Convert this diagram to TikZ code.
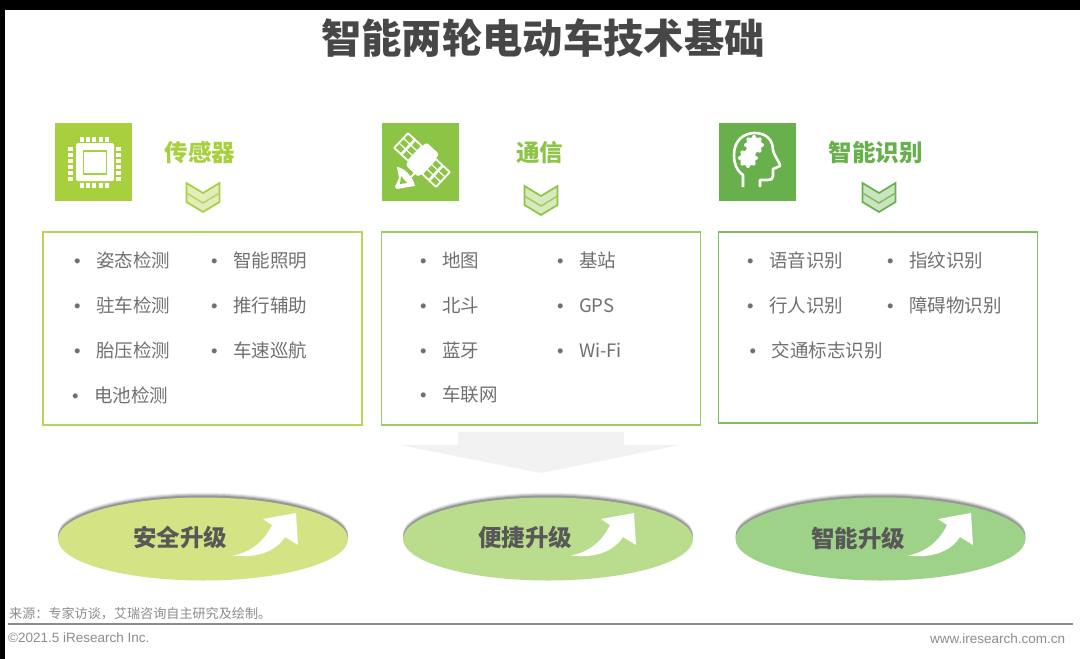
\documentclass[tikz,border=0pt]{standalone}
\usepackage{fontspec}
\setmainfont{Noto Sans CJK SC}
\newfontfamily\latinfont{Liberation Sans}
\usetikzlibrary{shapes.geometric}
\definecolor{lime}{RGB}{168,207,61}
\definecolor{grass}{RGB}{140,196,70}
\definecolor{leaf}{RGB}{104,176,76}
\definecolor{limefill}{RGB}{212,227,132}
\definecolor{grassfill}{RGB}{185,221,141}
\definecolor{leaffill}{RGB}{159,210,137}
\definecolor{slate}{RGB}{88,88,88}
\definecolor{itemgrey}{RGB}{112,112,112}
\definecolor{footgrey}{RGB}{140,140,140}
\tikzstyle{heading} = [font=\fontsize{23.5}{26}\selectfont\bfseries, inner sep=0pt]
\tikzstyle{listbox} = [rectangle, minimum width=319pt, minimum height=193pt, line width=1.5pt, inner sep=0pt]
\tikzstyle{item} = [text width=100pt, align=left, inner sep=0pt, text height=18pt, text depth=4pt, text=itemgrey, font=\fontsize{18.5}{20}\selectfont]
\tikzstyle{iconbox} = [rectangle, minimum width=77pt, minimum height=78pt, inner sep=0pt]
\tikzstyle{upgrade} = [ellipse, minimum width=290pt, minimum height=83pt, inner sep=0pt,
  preaction={fill=black, opacity=0.06, transform canvas={yshift=5pt}},
  preaction={fill=black, opacity=0.10, transform canvas={yshift=4pt}},
  preaction={fill=black, opacity=0.14, transform canvas={yshift=3pt}},
  preaction={fill=black, opacity=0.18, transform canvas={yshift=2pt}}]
\tikzstyle{upgradetext} = [text=slate, inner sep=0pt, font=\fontsize{23.5}{26}\selectfont\bfseries]
\tikzstyle{foot} = [text=footgrey, inner sep=0pt, anchor=west]
\newcommand{\bul}[1]{\makebox[21pt][l]{\hspace{-1pt}\latinfont •}#1}
\begin{document}
\begin{tikzpicture}[x=1pt, y=-1pt, node distance=45pt]
        \useasboundingbox (0,0) rectangle (1080,659);
        \fill[white] (0,0) rectangle (1080,659);
        \fill[black] (0,0) rectangle (1080,10);
        \fill[black] (0,0) rectangle (5,659);

        \node (title) [text=black!72, inner sep=0pt, font=\fontsize{40.3}{44}\selectfont\bfseries] at (543,38) {智能两轮电动车技术基础};

        \node (icon1) [iconbox, fill=lime] at (93.5,162) {};
        \node (icon2) [iconbox, fill=grass] at (420,162) {};
        \node (icon3) [iconbox, fill=leaf] at (757,162) {};

        \node (head1) [heading, text=lime] at (200,153) {传感器};
        \node (head2) [heading, text=grass] at (539.5,153) {通信};
        \node (head3) [heading, text=leaf] at (875.5,153) {智能识别};

        \foreach \cx/\cy/\col in {203/182/lime, 541/185/grass, 879/182/leaf} {
            \begin{scope}[shift={(\cx,\cy)}]
                \draw[\col, fill=\col!35, line width=1.7pt, line join=miter] (-16.5,1) -- (0,11) -- (16.5,1) -- (16.5,20) -- (0,30) -- (-16.5,20) -- cycle;
                \draw[\col!85, line width=1.5pt] (-16.5,11) -- (0,21) -- (16.5,11);
            \end{scope}
        }

        % chip
        \fill[white, rounded corners=1.5pt] (76,143) rectangle (114,181);
        \draw[lime, line width=1.3pt] (83.5,151) rectangle (106.5,174);
        \foreach \p in {0,...,4} {
            \fill[white] (79.5+\p*6.4,137) rectangle +(4,4.5);
            \fill[white] (79.5+\p*6.4,183) rectangle +(4,4.5);
        }
        \foreach \p in {0,...,5} {
            \fill[white] (68,147+\p*6) rectangle +(5,3.6);
            \fill[white] (116,147+\p*6) rectangle +(5,3.6);
        }

        % satellite
        \begin{scope}[shift={(422,160)}, rotate=-43]
            \fill[white, rounded corners=1pt] (-29.5,-11) rectangle (-8.5,11);
            \fill[white, rounded corners=1pt] (8.5,-11) rectangle (29.5,11);
            \fill[white, rounded corners=3pt] (-9,-16) rectangle (9,15);
            \fill[white] (-10,-2) rectangle (10,2);
            \foreach \gx in {-27.5,-17.5,10.5,20.5} {
                \foreach \gy in {-9,-2.5,4} {
                    \fill[grass] (\gx,\gy) rectangle +(7,5);
                }
            }
        \end{scope}
        \fill[white] (397,167) .. controls (405,168) and (413,177) .. (415,186) -- (408,187) -- (397,189) -- (395,187) -- (399,178) -- cycle;
        \fill[grass] (401,176) -- (407,183) -- (400,184) -- cycle;
        \draw[white, line width=2pt] (411,177) -- (417,171);

        % head
        \draw[white, line width=2.6pt, line join=round] (743,187) -- (743,175) .. controls (736,170) and (734,163) .. (734,155) .. controls (734,141) and (743,133) .. (755,133) .. controls (766,133) and (773,140) .. (773,150) .. controls (774,156) and (781,164) .. (780,166) -- (773,169) -- (773,176) .. controls (773,179) and (771,180) .. (768,180) -- (760,180) -- (760,187);
        \foreach \bx/\by/\br in {754/145/8, 748/158/8} {
            \fill[white] (\bx,\by) circle (\br);
            \foreach \a in {0,45,...,315} {
                \fill[white] (\bx,\by) ++(\a:\br) circle (2);
            }
        }

        \node (box1) [listbox, draw=lime!85] at (202.5,328.5) {};
        \node (box2) [listbox, draw=grass!85] at (541,328.5) {};
        \node (box3) [listbox, draw=leaf!85, minimum height=191pt] at (878,327.5) {};

        \node (item11) [item] at (125,260) {\bul{姿态检测}};
        \node (item12) [item, below of=item11] {\bul{驻车检测}};
        \node (item13) [item, below of=item12] {\bul{胎压检测}};
        \node (item14) [item, below of=item13, xshift=-2pt] {\bul{电池检测}};
        \node (item15) [item] at (262,260) {\bul{智能照明}};
        \node (item16) [item, below of=item15] {\bul{推行辅助}};
        \node (item17) [item, below of=item16] {\bul{车速巡航}};

        \node (item21) [item] at (471,260) {\bul{地图}};
        \node (item22) [item, below of=item21] {\bul{北斗}};
        \node (item23) [item, below of=item22] {\bul{蓝牙}};
        \node (item24) [item, below of=item23, yshift=1pt] {\bul{车联网}};
        \node (item25) [item] at (608,260) {\bul{基站}};
        \node (item26) [item, below of=item25] {\bul{GPS}};
        \node (item27) [item, below of=item26] {\bul{Wi-Fi}};

        \node (item31) [item] at (798,260) {\bul{语音识别}};
        \node (item32) [item, below of=item31] {\bul{行人识别}};
        \node (item33) [item, below of=item32, xshift=2.5pt] {\bul{交通标志识别}};
        \node (item34) [item] at (938,260) {\bul{指纹识别}};
        \node (item35) [item, below of=item34] {\bul{障碍物识别}};

        \fill[black!5] (458,432) -- (624,432) -- (624,445) -- (680,445) -- (541,473) -- (400,445) -- (458,445) -- cycle;

        \node (up1) [upgrade, fill=limefill] at (203,539) {};
        \node (up2) [upgrade, fill=grassfill] at (548,539) {};
        \node (up3) [upgrade, fill=leaffill] at (880.5,539) {};

        \foreach \dx in {0,338,675} {
            \fill[white, xshift=\dx pt] (233,555.5) .. controls (252,552) and (265,540) .. (272,525) -- (263,519) -- (296,513) -- (298,545) -- (285,537) .. controls (278,548) and (262,559) .. (233,555.5) -- cycle;
        }

        \node (text1) [upgradetext] at (180,538) {安全升级};
        \node (text2) [upgradetext] at (525,538) {便捷升级};
        \node (text3) [upgradetext] at (858,538) {智能升级};

        \node (source) [foot, font=\fontsize{13.1}{15}\selectfont] at (9,614) {来源\symbol{"FF1A}专家访谈\symbol{"FF0C}艾瑞咨询自主研究及绘制。};
        \coordinate (ruleleft) at (8,623.5);
        \coordinate (ruleright) at (1073,623.5);
        \draw[black!45, line width=2pt] (ruleleft) -- (ruleright);
        \node (copyright) [foot, font=\latinfont\fontsize{13.5}{15}\selectfont] at (8,638) {©2021.5 iResearch Inc.};
        \node (website) [foot, font=\latinfont\fontsize{13.5}{15}\selectfont] at (930,638.5) {www.iresearch.com.cn};
    \end{tikzpicture}
\end{document}
